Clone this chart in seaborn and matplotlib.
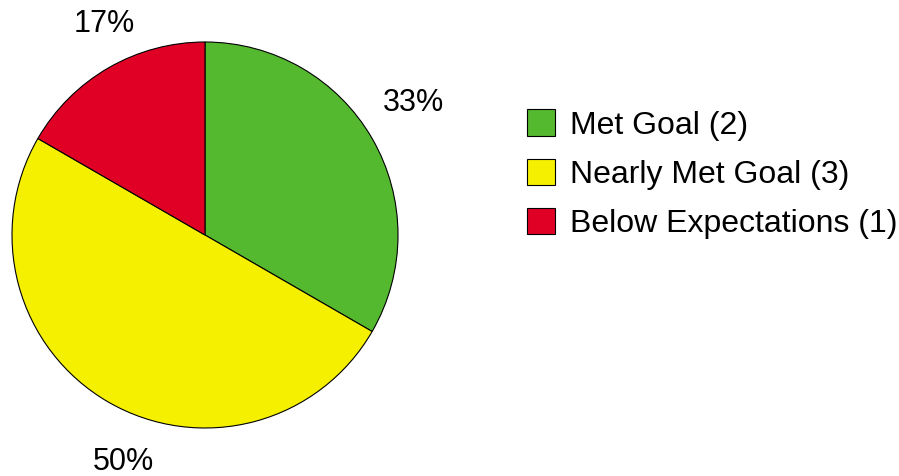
import matplotlib
matplotlib.use("Agg")
import matplotlib.pyplot as plt
import seaborn as sns

categories = ["Met Goal", "Nearly Met Goal", "Below Expectations"]
counts = [2, 3, 1]
colors = ["#55B92F", "#F5F000", "#E00025"]

sns.set_theme(style="white")
plt.rcParams['font.family'] = ['Liberation Sans', 'DejaVu Sans']
plt.rcParams['text.color'] = 'black'

fig = plt.figure(figsize=(8.99, 4.76), dpi=100)
ax = fig.add_axes([12/899, 48/476, 386/899, 386/476])
wedges, texts, autotexts = ax.pie(
    counts, colors=colors, startangle=90, counterclock=False,
    autopct=lambda p: f"{p:.0f}%", pctdistance=1.25,
    wedgeprops=dict(edgecolor="black", linewidth=0.8),
    textprops=dict(fontsize=22, color="black"))
ax.set_xlim(-1, 1)
ax.set_ylim(-1, 1)
ax.set_aspect("equal")

# label placement (in pie radius units)
label_pos = [(1.078, 0.684), (-0.42, -1.176), (-0.523, 1.093)]
for t, (x, y) in zip(autotexts, label_pos):
    t.set_position((x, y))
    t.set_clip_on(False)

labels = [f"{c} ({n})" for c, n in zip(categories, counts)]
fig.legend(wedges, labels, loc="upper left",
           bbox_to_anchor=(527/899, 1 - 109.5/476), frameon=False,
           fontsize=23, handlelength=0.877, handleheight=0.877,
           labelspacing=0.57, handletextpad=0.47, borderpad=0,
           borderaxespad=0, labelcolor="black")

fig.savefig("out.png", dpi=100)
